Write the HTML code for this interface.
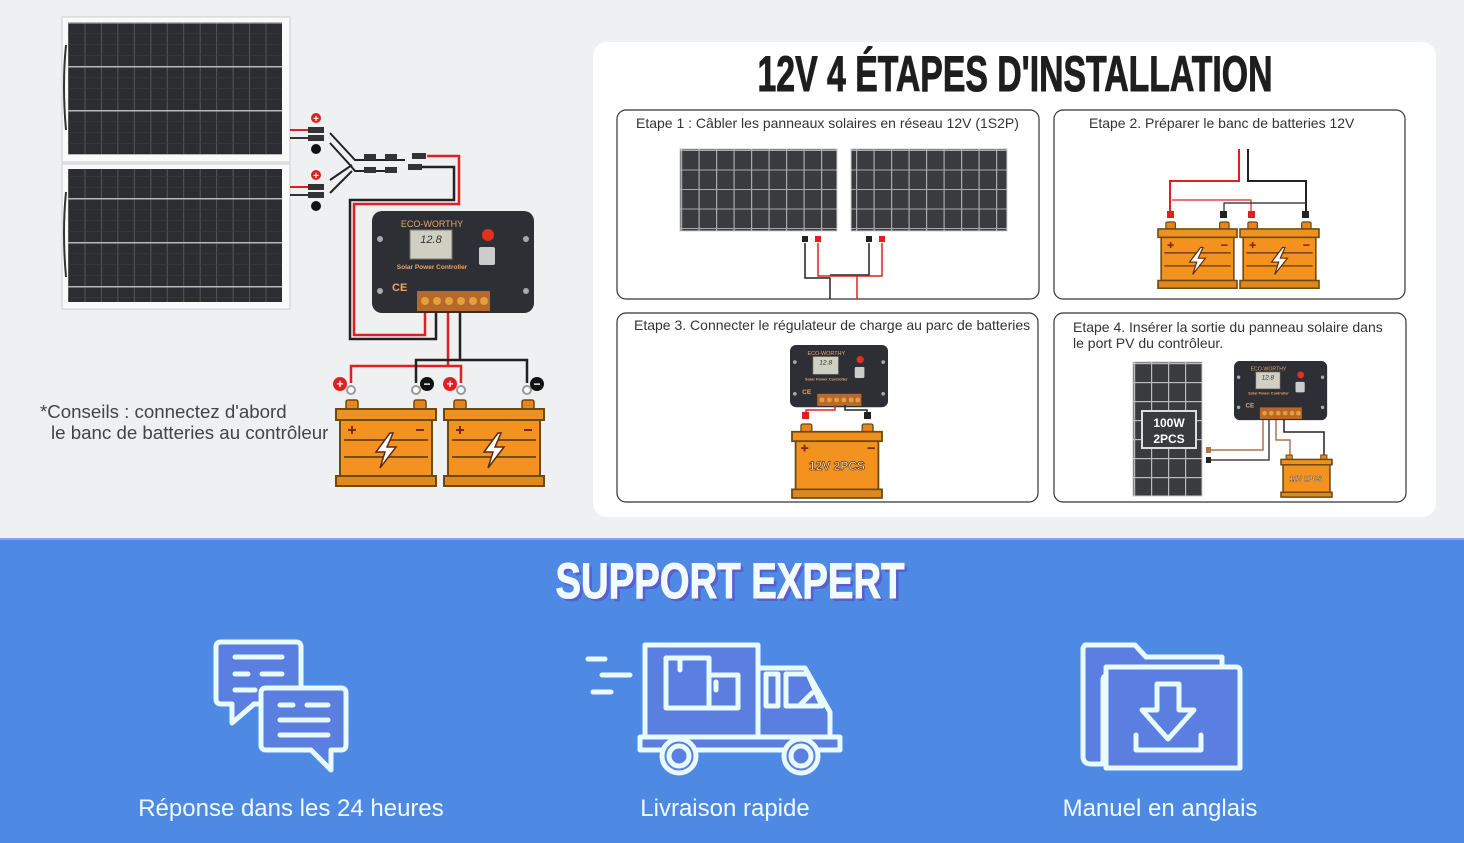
<!DOCTYPE html>
<html><head><meta charset="utf-8"><style>
html,body{margin:0;padding:0;background:#eff0f2}
svg{display:block}
text{font-family:"Liberation Sans",sans-serif}
</style></head><body>
<svg width="1464" height="843" viewBox="0 0 1464 843" xmlns="http://www.w3.org/2000/svg">
<defs>
<pattern id="pc" width="16.46" height="44" patternUnits="userSpaceOnUse" x="68" y="22">
<rect width="16.46" height="44" fill="#2c2d30"/>
<rect width="1" height="44" fill="#555659"/>
<rect width="16.46" height="1.5" fill="#b8b8b8"/>
<rect y="11" width="16.46" height="0.6" fill="#3a3a3c"/><rect y="22" width="16.46" height="0.6" fill="#3a3a3c"/><rect y="33" width="16.46" height="0.6" fill="#3a3a3c"/>
</pattern>
<pattern id="ps" width="17.5" height="19.5" patternUnits="userSpaceOnUse" x="681" y="150">
<rect width="17.5" height="19.5" fill="#3a3b3e"/><rect width="1.2" height="19.5" fill="#aaa"/><rect width="17.5" height="1" fill="#aaa"/>
</pattern>
<pattern id="ps4" width="17" height="19" patternUnits="userSpaceOnUse" x="1134" y="363">
<rect width="17" height="19" fill="#3a3b3e"/><rect width="1.2" height="19" fill="#bbb"/><rect width="17" height="1.2" fill="#bbb"/>
</pattern>
<g id="bat">
<rect x="10" y="0" width="12" height="10" rx="2" fill="#e8861e" stroke="#6b4a10" stroke-width="1.5"/>
<rect x="78" y="0" width="12" height="10" rx="2" fill="#e8861e" stroke="#6b4a10" stroke-width="1.5"/>
<rect x="0" y="9" width="100" height="11" fill="#f0901f" stroke="#6b4a10" stroke-width="2"/>
<rect x="4" y="20" width="92" height="56" fill="#f3921f" stroke="#6b4a10" stroke-width="2"/>
<path d="M8 40H92M8 57H92" stroke="#7a4a10" stroke-width="2"/>
<path d="M12 30h8M16 26v8M80 30h8" stroke="#7a2a10" stroke-width="2"/>
<path d="M54 33 L40 52 H49 L44 68 L60 47 H51 L57 33Z" fill="#fff" stroke="#5a2a10" stroke-width="1.5"/>
<rect x="0" y="76" width="100" height="10" fill="#e0881e" stroke="#6b4a10" stroke-width="2"/>
</g>
<g id="ctrl">
<rect x="0" y="0" width="162" height="102" rx="10" fill="#2e2f34"/>
<text x="60" y="16" font-size="9" fill="#e6a56a" text-anchor="middle">ECO-WORTHY</text>
<rect x="38" y="19" width="42" height="29" fill="#cfd0c2" stroke="#777"/>
<text x="59" y="32" font-size="11" fill="#333" text-anchor="middle" font-style="italic">12.8</text>
<circle cx="116" cy="24" r="6" fill="#e2321e"/>
<rect x="107" y="36" width="16" height="18" rx="2" fill="#ccc"/>
<text x="60" y="58" font-size="6.5" fill="#e6a56a" text-anchor="middle" font-weight="bold">Solar Power Controller</text>
<text x="20" y="80" font-size="11" fill="#e6a56a" font-weight="bold">CE</text>
<rect x="45" y="80" width="73" height="20" fill="#b8692a"/>
<g fill="#e3a040"><circle cx="53" cy="90" r="4"/><circle cx="65" cy="90" r="4"/><circle cx="77" cy="90" r="4"/><circle cx="89" cy="90" r="4"/><circle cx="101" cy="90" r="4"/><circle cx="112" cy="90" r="4"/></g>
<g fill="#aaa"><circle cx="8" cy="28" r="3"/><circle cx="154" cy="28" r="3"/><circle cx="8" cy="80" r="3"/><circle cx="154" cy="80" r="3"/></g>
</g>
</defs>

<rect x="62" y="17" width="228" height="145" fill="#fafafa" stroke="#ccc"/>
<rect x="68" y="22" width="214" height="133" fill="url(#pc)"/>
<rect x="62" y="164" width="228" height="145" fill="#fafafa" stroke="#ccc"/>
<rect x="68" y="169" width="214" height="133" fill="url(#pc)"/>
<path d="M66 45q-4 40 0 85M66 192q-4 40 0 85" stroke="#333" stroke-width="2" fill="none"/>

<g stroke-width="2" fill="none">
<path d="M290 130H316M290 187H316" stroke="#e02020"/>
<path d="M290 138H316M290 195H316" stroke="#333"/>
<path d="M330 133L355 160H405M330 143L350 165L355 171H395M330 180L352 165M330 193L352 171" stroke="#222"/>
</g>
<g fill="#333"><rect x="308" y="127" width="16" height="6"/><rect x="308" y="135" width="16" height="6"/><rect x="308" y="184" width="16" height="6"/><rect x="308" y="192" width="16" height="6"/>
<rect x="364" y="154" width="12" height="6"/><rect x="385" y="154" width="12" height="6"/><rect x="412" y="153" width="14" height="6"/><rect x="364" y="167" width="12" height="6"/><rect x="385" y="167" width="12" height="6"/><rect x="408" y="164" width="14" height="6"/></g>
<g font-size="10" font-weight="bold" text-anchor="middle">
<circle cx="316" cy="118" r="5" fill="#e02020"/><text x="316" y="122" fill="#fff">+</text>
<circle cx="316" cy="175" r="5" fill="#e02020"/><text x="316" y="179" fill="#fff">+</text>
<circle cx="316" cy="149" r="5" fill="#111"/><circle cx="316" cy="206" r="5" fill="#111"/>
</g>
<g fill="none" stroke-width="2.5">
<path d="M427 156H459V204H354V335H425V312" stroke="#e02020"/>
<path d="M422 167H454V200H350V339H436V312" stroke="#222"/>
<path d="M448 312V366M351 383V366H461V383" stroke="#e02020"/>
<path d="M460 312V360M416 383V360H527V383" stroke="#222"/>
</g>
<g fill="#fff" stroke="#999" stroke-width="2"><circle cx="351" cy="390" r="4"/><circle cx="416" cy="390" r="4"/><circle cx="461" cy="390" r="4"/><circle cx="527" cy="390" r="4"/></g>
<g font-size="12" font-weight="bold" text-anchor="middle" fill="#fff">
<circle cx="340" cy="384" r="7" fill="#e02020"/><text x="340" y="388">+</text>
<circle cx="427" cy="384" r="7" fill="#111"/><text x="427" y="388">−</text>
<circle cx="450" cy="384" r="7" fill="#e02020"/><text x="450" y="388">+</text>
<circle cx="537" cy="384" r="7" fill="#111"/><text x="537" y="388">−</text>
</g>
<use href="#ctrl" transform="translate(372,211)"/>
<use href="#bat" transform="translate(336,400)"/>
<use href="#bat" transform="translate(444,400)"/>
<text x="40" y="418" font-size="18.7" fill="#444">*Conseils : connectez d'abord</text>
<text x="51" y="439" font-size="18.7" fill="#444">le banc de batteries au contrôleur</text>

<rect x="593" y="42" width="843" height="475" rx="14" fill="#fff"/>
<text x="1015" y="91" font-size="50" font-weight="bold" fill="#1e1e1e" stroke="#1e1e1e" stroke-width="1" text-anchor="middle" textLength="515" lengthAdjust="spacingAndGlyphs" font-family="Liberation Sans Narrow, Liberation Sans, sans-serif">12V 4 ÉTAPES D'INSTALLATION</text>
<g fill="none" stroke="#333" stroke-width="1.2">
<rect x="617" y="110" width="422" height="189" rx="9"/>
<rect x="1054" y="110" width="351" height="189" rx="9"/>
<rect x="617" y="313" width="421" height="189" rx="9"/>
<rect x="1054" y="313" width="352" height="189" rx="9"/>
</g>
<g font-size="14" fill="#333">
<text x="636" y="128">Etape 1 : Câbler les panneaux solaires en réseau 12V (1S2P)</text>
<text x="1089" y="128">Etape 2. Préparer le banc de batteries 12V</text>
<text x="634" y="330">Etape 3. Connecter le régulateur de charge au parc de batteries</text>
<text x="1073" y="332">Etape 4. Insérer la sortie du panneau solaire dans</text>
<text x="1073" y="348">le port PV du contrôleur.</text>
</g>
<rect x="680" y="149" width="157" height="82" fill="url(#ps)" stroke="#ccc"/>
<rect x="851" y="149" width="156" height="82" fill="url(#ps)" stroke="#ccc"/>
<g fill="none" stroke-width="1.5">
<path d="M805 243V278H830V299M869 243V275H830" stroke="#222"/>
<path d="M818 243V276H857V299M882 243V276H857" stroke="#e02020"/>
</g>
<g><rect x="802" y="236" width="6" height="6" fill="#222"/><rect x="815" y="236" width="6" height="6" fill="#e02020"/><rect x="866" y="236" width="6" height="6" fill="#222"/><rect x="879" y="236" width="6" height="6" fill="#e02020"/></g>
<g fill="none" stroke-width="2">
<path d="M1239 149V181H1170V212" stroke="#e02020"/>
<path d="M1248 149V181H1306V212" stroke="#222"/>
<path d="M1172 200H1251V212" stroke="#e02020" stroke-width="1.2"/>
<path d="M1224 212V203H1306" stroke="#222" stroke-width="1.2"/>
</g>
<g><rect x="1167" y="211" width="7" height="7" fill="#e02020"/><rect x="1220" y="211" width="7" height="7" fill="#222"/><rect x="1248" y="211" width="7" height="7" fill="#e02020"/><rect x="1302" y="211" width="7" height="7" fill="#222"/></g>
<use href="#bat" transform="translate(1158,222) scale(0.79,0.77)"/>
<use href="#bat" transform="translate(1240,222) scale(0.79,0.77)"/>
<use href="#ctrl" transform="translate(790,345) scale(0.605,0.61)"/>
<path d="M806 415V410H835V405" fill="none" stroke="#e02020" stroke-width="1.5"/>
<path d="M867 415V410H845V405" fill="none" stroke="#222" stroke-width="1.5"/>
<rect x="802" y="412" width="7" height="7" fill="#e02020"/><rect x="864" y="412" width="7" height="7" fill="#222"/>
<g transform="translate(792,424) scale(0.9,0.86)">
<rect x="10" y="0" width="12" height="10" rx="2" fill="#e8861e" stroke="#6b4a10" stroke-width="1.5"/>
<rect x="78" y="0" width="12" height="10" rx="2" fill="#e8861e" stroke="#6b4a10" stroke-width="1.5"/>
<rect x="0" y="9" width="100" height="11" fill="#f0901f" stroke="#6b4a10" stroke-width="2"/>
<rect x="4" y="20" width="92" height="56" fill="#f3921f" stroke="#6b4a10" stroke-width="2"/>
<path d="M10 28h8M14 24v8M84 28h8" stroke="#7a2a10" stroke-width="2"/>
<rect x="0" y="76" width="100" height="10" fill="#e0881e" stroke="#6b4a10" stroke-width="2"/>
</g>
<text x="837" y="470" font-size="12" font-weight="bold" fill="#fff" stroke="#6b3a10" stroke-width="0.8" text-anchor="middle">12V 2PCS</text>
<rect x="1133" y="362" width="69" height="134" fill="url(#ps4)" stroke="#ccc"/>
<rect x="1142" y="411" width="54" height="37" fill="#3a3b3e" stroke="#ddd" stroke-width="2"/>
<text x="1169" y="427" font-size="12" font-weight="bold" fill="#fff" text-anchor="middle">100W</text>
<text x="1169" y="443" font-size="12" font-weight="bold" fill="#fff" text-anchor="middle">2PCS</text>
<use href="#ctrl" transform="translate(1234,361) scale(0.575,0.58)"/>
<g fill="none" stroke-width="1.5">
<path d="M1210 450H1263V420" stroke="#b0734a"/>
<path d="M1210 460H1269V420" stroke="#444"/>
<path d="M1276 420V440H1290V455" stroke="#b0734a"/>
<path d="M1284 420V432H1324V455" stroke="#222"/>
</g>
<rect x="1206" y="447" width="5" height="6" fill="#b0734a"/><rect x="1206" y="457" width="5" height="6" fill="#222"/>
<g transform="translate(1281,455) scale(0.51,0.49)">
<rect x="10" y="0" width="12" height="10" fill="#e8861e" stroke="#6b4a10" stroke-width="2"/>
<rect x="78" y="0" width="12" height="10" fill="#e8861e" stroke="#6b4a10" stroke-width="2"/>
<rect x="0" y="9" width="100" height="11" fill="#f0901f" stroke="#6b4a10" stroke-width="3"/>
<rect x="4" y="20" width="92" height="56" fill="#f3921f" stroke="#6b4a10" stroke-width="3"/>
<rect x="0" y="76" width="100" height="10" fill="#e0881e" stroke="#6b4a10" stroke-width="3"/>
</g>
<text x="1306" y="481" font-size="7" font-weight="bold" fill="#fff" stroke="#6b3a10" stroke-width="0.4" text-anchor="middle">12V 2PCS</text>

<rect x="0" y="538" width="1464" height="305" fill="#4e8ae4"/>
<rect x="0" y="538" width="1464" height="2" fill="#7aa8ee"/>
<text x="733" y="601" font-size="50" font-weight="bold" fill="#5a5fcf" text-anchor="middle" textLength="349" lengthAdjust="spacingAndGlyphs" font-family="Liberation Sans Narrow, Liberation Sans, sans-serif">SUPPORT EXPERT</text>
<text x="730" y="598" font-size="50" font-weight="bold" fill="#f2fbff" stroke="#f2fbff" stroke-width="1" text-anchor="middle" textLength="349" lengthAdjust="spacingAndGlyphs" font-family="Liberation Sans Narrow, Liberation Sans, sans-serif">SUPPORT EXPERT</text>

<g fill="#5a7fe0" stroke="#e8fbff" stroke-width="5" stroke-linejoin="round" stroke-linecap="round">
<path d="M221 642H296Q301 642 301 647V699H270V704H254L232 723V704H221Q216 704 216 699V647Q216 642 221 642Z"/>
<path d="M266 688H341Q346 688 346 693V745Q346 750 341 750H331V770L311 750H266Q261 750 261 745V693Q261 688 266 688Z"/>
<path d="M235 657H282M235 674H248M262 674H282M235 690H255M280 705H293M307 705H328M280 720H328M280 735H328" fill="none"/>
<path d="M645 645H758V737H645Z"/>
<path d="M758 668H805L830 712V748H758Z"/>
<path d="M666 658H709V708H666ZM709 675H738V708H709Z" fill="none"/>
<path d="M680 658V670M716 682V690" fill="none"/>
<path d="M766 674H778V706H766ZM786 674H808L822 706H786Z" fill="none"/>
<path d="M800 705L812 693" fill="none"/>
<path d="M640 737H840V750H640Z" fill="#5a7fe0"/>
<path d="M588 659H605M602 675H630M593 692H611" fill="none"/>
<circle cx="679" cy="756" r="17"/><circle cx="679" cy="756" r="10"/>
<circle cx="801" cy="756" r="17"/><circle cx="801" cy="756" r="10"/>
<path d="M1085 645H1135L1146 657H1222V676H1106Q1103 676 1103 680V764H1091Q1083 764 1083 756V648Z"/>
<path d="M1106 667H1236Q1240 667 1240 671V768H1106Z"/>
<path d="M1157 684H1179V710H1194L1168 739L1142 710H1157Z" fill="none"/>
<path d="M1136 735V750H1201V735" fill="none"/>
</g>
<g font-size="24" fill="#f2fbff" text-anchor="middle">
<text x="291" y="816">Réponse dans les 24 heures</text>
<text x="725" y="816">Livraison rapide</text>
<text x="1160" y="816">Manuel en anglais</text>
</g>
</svg>
</body></html>
